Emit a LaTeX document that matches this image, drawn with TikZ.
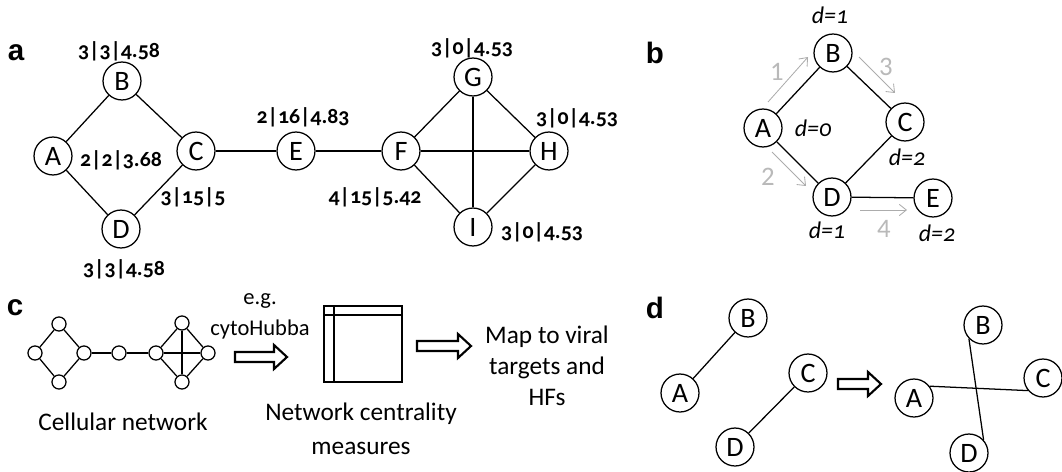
\documentclass[tikz,border=0pt]{standalone}
\usepackage{fontspec}
\setmainfont{Carlito}[Numbers=OldStyle]
\newfontfamily\liningfont{Carlito}
\newfontfamily\panelfont{Liberation Sans}
\usetikzlibrary{arrows.meta}

\tikzset{
  vtx/.style={circle, draw, line width=0.9pt, minimum size=27pt, inner sep=0pt,
    font=\fontsize{20}{22}\selectfont},
  dot/.style={circle, draw, line width=0.9pt, minimum size=10pt, inner sep=0pt},
  edge/.style={line width=0.9pt},
  score/.style={font=\bfseries\fontsize{15.5}{17}\selectfont},
  dist/.style={font=\itshape\fontsize{17}{19}\selectfont},
  order/.style={font=\liningfont\fontsize{19}{21}\selectfont, text=gray!55},
  walk/.style={draw=gray!65, line width=0.6pt, -{Straight Barb[length=5pt,width=8pt]}},
  caption/.style={font=\fontsize{18}{22}\selectfont, align=center},
  panel/.style={font=\panelfont\bfseries\fontsize{21}{23}\selectfont},
  fatarrow/.pic={
    \draw[line width=1.5pt, fill=white]
      (0,-5) -- ({#1-13},-5) -- ({#1-13},-12) -- (#1,0) -- ({#1-13},12)
      -- ({#1-13},5) -- (0,5) -- cycle;
  }
}

\begin{document}
\begin{tikzpicture}[x=0.025cm, y=-0.025cm]
\useasboundingbox (0,0) rectangle (1062,472);

% a: network with degree|betweenness|closeness
\node[panel] (pa) at (16,53) {a};
\node[vtx] (aA) at (53,156) {A};
\node[vtx] (aB) at (122,81) {B};
\node[vtx] (aC) at (196,151) {C};
\node[vtx] (aD) at (121,229) {D};
\node[vtx] (aE) at (296,151) {E};
\node[vtx] (aF) at (401,151) {F};
\node[vtx] (aG) at (473,77) {G};
\node[vtx] (aH) at (549,151) {H};
\node[vtx] (aI) at (473,227) {I};
\foreach \u/\v in {aA/aB, aB/aC, aA/aD, aD/aC, aC/aE, aE/aF,
                   aF/aG, aF/aH, aF/aI, aG/aH, aG/aI, aH/aI}
  \draw[edge] (\u) -- (\v);
\node[score] (lB) at (119,51) {3|3|4.58};
\node[score] (lA) at (121,160) {2|2|3.68};
\node[score] (lC) at (193,197) {3|15|5};
\node[score] (lD) at (124,269) {3|3|4.58};
\node[score] (lE) at (303,117) {2|16|4.83};
\node[score] (lF) at (375,197) {4|15|5.42};
\node[score] (lG) at (472,48) {3|0|4.53};
\node[score] (lH) at (577,118) {3|0|4.53};
\node[score] (lI) at (542,232) {3|0|4.53};

% b: breadth-first distances
\node[panel] (pb) at (655,53) {b};
\node[vtx] (bA) at (763,128) {A};
\node[vtx] (bB) at (833,53) {B};
\node[vtx] (bC) at (905,122) {C};
\node[vtx] (bD) at (832,197) {D};
\node[vtx] (bE) at (933,198) {E};
\foreach \u/\v in {bA/bB, bB/bC, bA/bD, bD/bC, bD/bE}
  \draw[edge] (\u) -- (\v);
\node[dist] (dB) at (830,15) {d=1};
\node[dist] (dA) at (813,128) {d=0};
\node[dist] (dC) at (907,157) {d=2};
\node[dist] (dD) at (827,230) {d=1};
\node[dist] (dE) at (937,233) {d=2};
\coordinate (w1s) at (768,102); \coordinate (w1e) at (808,57);
\coordinate (w2s) at (772,152); \coordinate (w2e) at (806,186);
\coordinate (w3s) at (859,57);  \coordinate (w3e) at (895,93);
\coordinate (w4s) at (860,210); \coordinate (w4e) at (907,210);
\draw[walk] (w1s) -- (w1e);
\draw[walk] (w2s) -- (w2e);
\draw[walk] (w3s) -- (w3e);
\draw[walk] (w4s) -- (w4e);
\node[order] (o1) at (777,72) {1};
\node[order] (o2) at (768,177) {2};
\node[order] (o3) at (886,67) {3};
\node[order] (o4) at (884,229) {4};

% c: workflow
\node[panel] (pc) at (15,308) {c};
\node[dot] (sA) at (35,353) {};
\node[dot] (sB) at (59,324) {};
\node[dot] (sC) at (84,353) {};
\node[dot] (sD) at (59,382) {};
\node[dot] (sE) at (119,353) {};
\node[dot] (sF) at (156,353) {};
\node[dot] (sG) at (182,323) {};
\node[dot] (sH) at (208,353) {};
\node[dot] (sI) at (182,382) {};
\foreach \u/\v in {sA/sB, sB/sC, sA/sD, sD/sC, sC/sE, sE/sF,
                   sF/sG, sF/sH, sF/sI, sG/sH, sG/sI, sH/sI}
  \draw[edge] (\u) -- (\v);
\node[caption] (cnet) at (123,422) {Cellular network};
\node[caption, font=\fontsize{16}{22}\selectfont] (ctool) at (260,316) {e.g.\\cytoHubba};
\pic at (235,357) {fatarrow=52};
\draw[line width=1.2pt] (324,306) rectangle (402,382);
\draw[line width=1.2pt] (334,306) -- (334,382);
\draw[line width=1.2pt] (324,315) -- (402,315);
\node[caption, font=\fontsize{18}{24}\selectfont] (cmeas) at (361,429) {Network centrality\\measures};
\pic at (417,346) {fatarrow=54};
\node[caption] (cmap) at (547,366) {Map to viral\\targets and\\HFs};

% d: rewiring
\node[panel] (pd) at (655,308) {d};
\node[vtx] (xA) at (680,393) {A};
\node[vtx] (xB) at (748,318) {B};
\node[vtx] (xC) at (808,373) {C};
\node[vtx] (xD) at (735,447) {D};
\draw[edge] (xA) -- (xB);
\draw[edge] (xD) -- (xC);
\pic at (838,384) {fatarrow=43};
\node[vtx] (yA) at (914,398) {A};
\node[vtx] (yB) at (983,325) {B};
\node[vtx] (yC) at (1043,378) {C};
\node[vtx] (yD) at (969,453) {D};
\draw[edge] (yA.37) -- (yC.220);
\draw[edge] (yB.224) -- (yD.42);
\end{tikzpicture}
\end{document}
